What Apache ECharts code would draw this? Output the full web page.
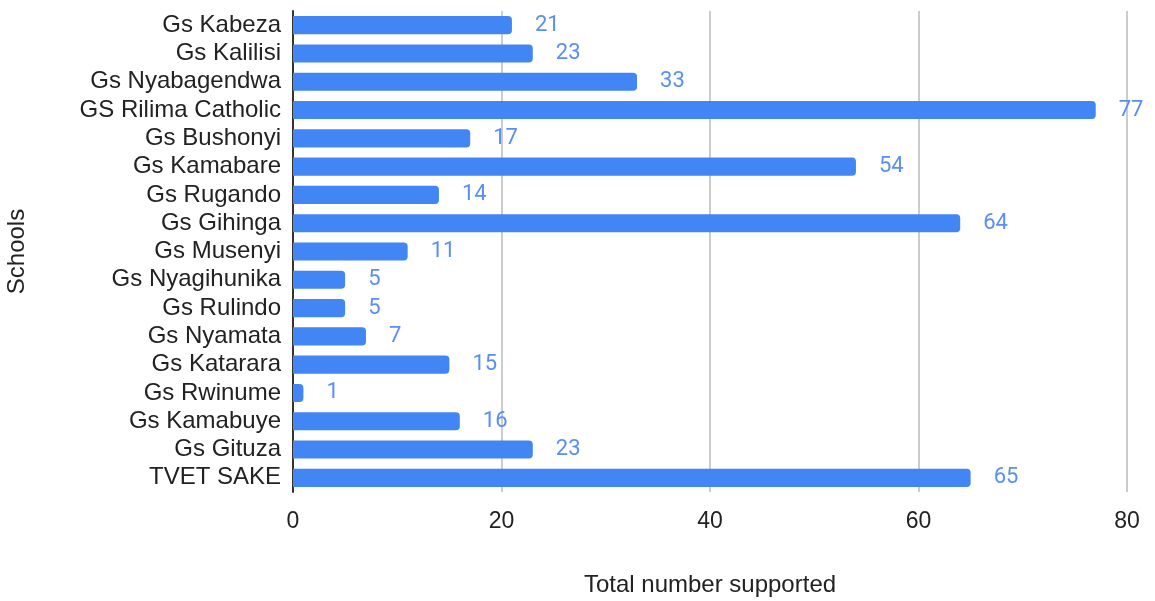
<!DOCTYPE html>
<html><head><meta charset="utf-8">
<script src="https://cdn.jsdelivr.net/npm/echarts@6/dist/echarts.min.js"></script>
<style>html,body{margin:0;padding:0;background:#fff}#c{width:1155px;height:601px}</style>
</head><body><div id="c"></div>
<script>
const categories = ["Gs Kabeza","Gs Kalilisi","Gs Nyabagendwa","GS Rilima Catholic","Gs Bushonyi","Gs Kamabare","Gs Rugando","Gs Gihinga","Gs Musenyi","Gs Nyagihunika","Gs Rulindo","Gs Nyamata","Gs Katarara","Gs Rwinume","Gs Kamabuye","Gs Gituza","TVET SAKE"];
const values = [21,23,33,77,17,54,14,64,11,5,5,7,15,1,16,23,65];
const xTicks = [0,20,40,60,80];

const F = "'Liberation Sans', Arial, sans-serif";
const chart = echarts.init(document.getElementById('c'));
chart.setOption({
  animation:false,
  grid:{left:293,right:28,top:11,bottom:109,containLabel:false,outerBoundsMode:'none'},
  xAxis:{type:'value',min:xTicks[0],max:xTicks[xTicks.length-1],interval:20,
    name:'Total number supported',nameLocation:'middle',nameGap:81,
    nameTextStyle:{fontFamily:F,fontSize:24,color:'#222'},
    axisLine:{show:false},axisTick:{show:false},
    axisLabel:{fontFamily:F,fontSize:23,color:'#222',margin:18},
    splitLine:{lineStyle:{color:'#cccccc',width:2}}},
  yAxis:{type:'category',data:categories,inverse:true,
    name:'Schools',nameLocation:'middle',nameGap:264,nameRotate:90,
    nameTextStyle:{fontFamily:F,fontSize:24,color:'#222'},
    axisLine:{show:true,lineStyle:{color:'#333',width:2}},axisTick:{show:false},
    axisLabel:{fontFamily:F,fontSize:24,color:'#222',margin:12,interval:0,hideOverlap:false}},
  series:[{type:'bar',data:values,barCategoryGap:'36%',
    itemStyle:{color:'#4285F4',borderRadius:[0,4,4,0]},
    label:{show:true,position:'right',distance:23,fontFamily:'Roboto',fontSize:22,color:'#5a8ef2'}}]
});
</script></body></html>
